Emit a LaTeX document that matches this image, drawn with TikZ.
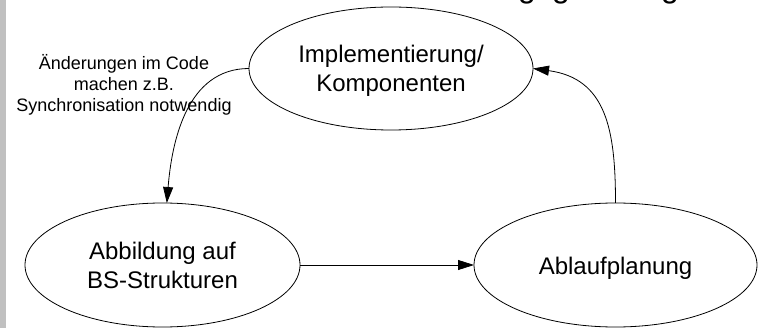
\documentclass[tikz,border=0pt]{standalone}
\usepackage{fontspec}
\setmainfont{Liberation Sans}
\usetikzlibrary{shapes.geometric,arrows.meta}
\definecolor{barGray}{RGB}{192,192,192}
% invisible struts that fix the vertical metrics of the node texts
\newcommand\lnTop{\rule{0pt}{24pt}}
\newcommand\lnBot{\rule[-6pt]{0pt}{6pt}}
\newcommand\smTop{\rule{0pt}{18pt}}
\newcommand\smBot{\rule[-5pt]{0pt}{5pt}}
\begin{document}
\begin{tikzpicture}[x=1pt,y=-1pt,
  oval/.style={ellipse, draw=black, line width=0.8pt, inner sep=0pt, outer sep=0pt,
    align=center, font=\fontsize{24pt}{29pt}\selectfont},
  flow/.style={draw=black, line width=0.8pt, -{Triangle[length=16pt,width=10pt]}},
  note/.style={align=center, inner sep=0pt, font=\fontsize{18pt}{21pt}\selectfont},
  cut/.style={anchor=base, inner sep=0pt, font=\fontsize{32pt}{38pt}\selectfont}]
\useasboundingbox (0,0) rectangle (759,328);
\clip (0,0) rectangle (759,328);

% grey strip on the left edge
\fill[barGray] (0,0) rectangle (6,328);

% heading above the frame; only its descenders reach into view
\node[cut] (hg1) at (527,-2.7) {g};
\node[cut] (hg2) at (561,-2.7) {g};
\node[cut] (hg3) at (670,-2.7) {g};

% the three stages
\node[oval, minimum width=284pt, minimum height=123pt] (impl) at (391,68.5)
  {\lnTop Implementierung/\\Komponenten\lnBot};
\node[oval, minimum width=275pt, minimum height=124pt] (abb) at (162.5,265)
  {\lnTop Abbildung auf\\BS-Strukturen\lnBot};
\node[oval, minimum width=283pt, minimum height=124pt] (abl) at (615.5,265)
  {\lnTop Ablaufplanung\lnBot};

% remark beside the first connector
\node[note] (remark) at (124,84.5)
  {\smTop Änderungen im Code\\machen z.B.\\Synchronisation notwendig\smBot};

% cycle of dependencies
\draw[flow] (impl.west) .. controls +(-62,0) and +(5,-62) .. (abb.86);
\draw[flow] (abb.east) -- (abl.west);
\draw[flow] (abl.north) .. controls +(0,-74) and +(73,10) .. (impl.east);
\end{tikzpicture}
\end{document}
